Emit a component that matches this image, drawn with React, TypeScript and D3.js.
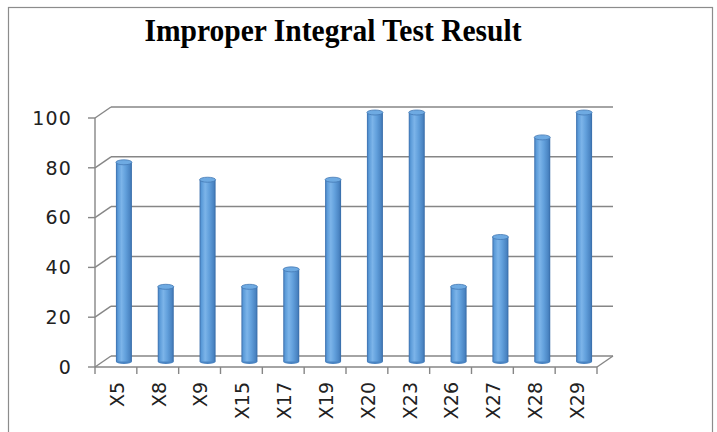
import React from "react";
import * as d3 from "d3";

const categories = ["X5", "X8", "X9", "X15", "X17", "X19", "X20", "X23", "X26", "X27", "X28", "X29"];
const values = [80, 30, 73, 30, 37, 73, 100, 100, 30, 50, 90, 100];
const yTicks = [0, 20, 40, 60, 80, 100];
const title = "Improper Integral Test Result";

const W = 717, H = 432;
const left = 95, right = 597, bottom = 367, top = 118;
const depthX = 16, depthY = -11;
const barW = 16;
const grid = "#868686";

export default function App() {
  const x = d3.scaleBand<string>().domain(categories).range([left, right]).padding(0);
  const y = d3.scaleLinear().domain([0, 100]).range([bottom, top]);
  const bounds = d3.range(categories.length + 1).map(i => left + i * x.step());

  return (
    <svg width={W} height={H} style={{ position: "absolute", left: 0, top: 0 }}>
      <defs>
        <linearGradient id="cyl" x1="0" x2="1" y1="0" y2="0">
          <stop offset="0" stopColor="#3a6dab" />
          <stop offset="0.12" stopColor="#5a9ad8" />
          <stop offset="0.35" stopColor="#7cb4e9" />
          <stop offset="0.6" stopColor="#62a0dc" />
          <stop offset="0.88" stopColor="#4a84c2" />
          <stop offset="1" stopColor="#366aa6" />
        </linearGradient>
      </defs>
      <rect x={8.5} y={7.5} width={704} height={440} fill="#fff" stroke="#8c8c8c" strokeWidth={1.2} />
      <text x={333} y={41} textAnchor="middle" fontFamily="'Liberation Serif', 'Times New Roman', serif"
        fontWeight="bold" fontSize={32} textLength={377} lengthAdjust="spacingAndGlyphs" fill="#000">
        {title}
      </text>

      {/* back wall gridlines and left wall edges */}
      {yTicks.map(t => (
        <g key={t}>
          <line x1={left + depthX} x2={right + depthX} y1={y(t) + depthY} y2={y(t) + depthY} stroke={grid} strokeWidth={1.5} />
          <line x1={left} x2={left + depthX} y1={y(t)} y2={y(t) + depthY} stroke={grid} strokeWidth={1.4} />
          <line x1={left - 7} x2={left} y1={y(t)} y2={y(t)} stroke={grid} strokeWidth={1.4} />
          <text x={72} y={y(t)} dy="0.36em" textAnchor="end" fontFamily="'DejaVu Sans', Verdana, sans-serif"
            fontSize={19} letterSpacing={1.2} fill="#222">{t}</text>
        </g>
      ))}
      {/* floor */}
      <line x1={left} x2={right} y1={bottom} y2={bottom} stroke={grid} strokeWidth={1.4} />
      <line x1={right} x2={right + depthX} y1={bottom} y2={bottom + depthY} stroke={grid} strokeWidth={1.4} />
      <line x1={left} x2={left} y1={top} y2={bottom} stroke={grid} strokeWidth={1.4} />
      {bounds.map((b, i) => (
        <line key={i} x1={b} x2={b} y1={bottom} y2={bottom + 7} stroke={grid} strokeWidth={1.4} />
      ))}

      {/* cylinders */}
      {categories.map((c, i) => {
        const cx = (x(c) as number) + x.bandwidth() / 2 + depthX / 2;
        const yTop = y(values[i]) + depthY / 2;
        const yBot = y(0) + depthY / 2;
        return (
          <g key={c}>
            <ellipse cx={cx} cy={yBot} rx={barW / 2} ry={2.5} fill="#4a84c2" />
            <rect x={cx - barW / 2} y={yTop} width={barW} height={yBot - yTop} fill="url(#cyl)" />
            <ellipse cx={cx} cy={yTop} rx={barW / 2} ry={2.5} fill="#6eaae2" stroke="#4478b4" strokeWidth={0.8} />
          </g>
        );
      })}

      {/* category labels */}
      {categories.map(c => {
        const cx = (x(c) as number) + x.bandwidth() / 2 + 1;
        return (
          <text key={c} transform={`translate(${cx},382) rotate(-90)`} textAnchor="end" dy="0.36em"
            fontFamily="'DejaVu Sans', Verdana, sans-serif" fontSize={19} fill="#222">{c}</text>
        );
      })}
    </svg>
  );
}
